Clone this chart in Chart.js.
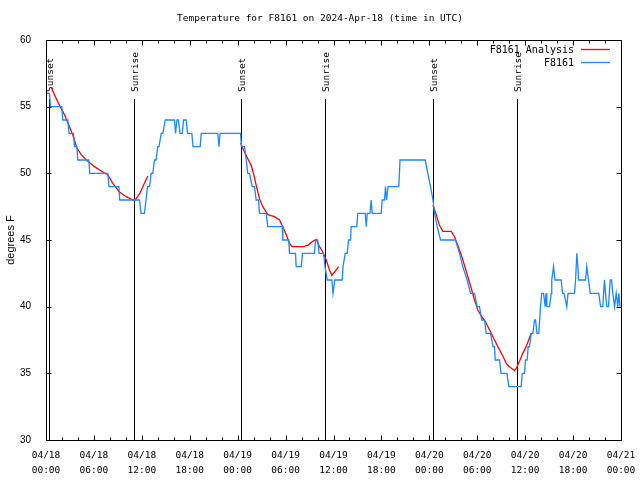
<!DOCTYPE html>
<html><head><meta charset="utf-8">
<script src="https://cdn.jsdelivr.net/npm/chart.js@4"></script>
<style>html,body{margin:0;padding:0;background:#fff}</style>
</head><body>
<canvas id="c" width="640" height="480"></canvas>
<script>
const titleText = 'Temperature for F8161 on 2024-Apr-18 (time in UTC)';
const yAxisTitle = 'degrees F';
const xTickLabels = [['04/18','00:00'],['04/18','06:00'],['04/18','12:00'],['04/18','18:00'],
  ['04/19','00:00'],['04/19','06:00'],['04/19','12:00'],['04/19','18:00'],
  ['04/20','00:00'],['04/20','06:00'],['04/20','12:00'],['04/20','18:00'],['04/21','00:00']];
const yMin = 30, yMax = 60, yStep = 5;
const xMin = 0, xMax = 72, xStep = 6, xMinorStep = 2;

const sunLabels = ['Sunset','Sunrise','Sunset','Sunrise','Sunset','Sunrise'];
const sunHours  = [0.35, 10.99, 24.39, 34.91, 48.43, 58.95];

const blueName = 'F8161';
const blueHours = [0.06,0.44,0.56,1.98,2.10,2.73,2.88,3.44,3.57,3.86,3.98,5.36,5.48,7.74,7.89,9.12,9.24,11.71,11.90,12.33,
 12.52,12.71,12.96,13.17,13.37,13.59,13.78,14.00,14.15,14.43,14.63,14.93,16.09,16.22,16.40,16.59,16.78,17.06,17.22,17.56,
 17.72,18.26,18.41,19.31,19.44,21.51,21.66,21.79,24.36,24.48,24.86,25.07,25.27,25.48,25.82,26.11,26.32,26.61,26.73,27.57,
 27.77,29.58,29.65,30.40,30.49,31.24,31.33,31.96,32.12,33.62,33.75,34.03,34.19,34.75,34.94,35.21,35.79,35.94,36.04,36.16,
 37.09,37.19,37.47,37.72,37.88,38.13,38.22,38.92,39.04,39.97,40.10,40.22,40.57,40.72,40.85,41.97,42.10,42.39,42.51,42.64,
 42.83,44.18,44.33,47.48,47.81,48.15,48.46,48.65,48.99,49.40,51.28,51.78,52.19,52.74,53.16,53.66,53.99,54.28,54.57,54.91,
 55.12,55.66,55.97,56.16,56.25,56.79,56.97,57.72,57.95,59.50,59.63,59.92,60.04,60.25,60.38,60.54,60.76,60.96,61.17,61.30,
 61.48,61.71,61.92,62.08,62.30,62.51,62.61,62.71,63.05,63.26,63.33,63.55,63.74,64.51,64.68,64.87,65.21,65.37,66.18,66.31,
 66.47,66.60,66.68,67.56,67.72,67.93,68.15,69.22,69.44,69.72,69.93,70.06,70.22,70.43,70.65,70.81,70.98,71.19,71.40,71.60,
 71.73,71.88];
const blueTemps = [56,56,55,55,54,54,53,53,52,52,51,51,50,50,49,49,48,48,47,47,
 48,49,49,50,50,51,51,52,52,53,53,54,54,53,54,54,53,53,54,54,
 53,53,52,52,53,53,52,53,53,52,52,51,50,50,49,49,48,48,47,47,
 46,46,45,45,44,44,43,43,44,44,45,45,44,44,43,42,42,41,41,42,
 42,43,44,44,45,45,46,46,47,47,46,47,47,48,47,47,48,48,49,48,
 49,49,51,51,50,49,48,47,46,45,45,44,43,42,41,41,40,40,39,39,
 38,38,37,37,36,36,35,35,34,34,35,35,36,36,37,37,38,38,39,39,
 38,38,40,41,41,40,41,40,40,41,42,43,42,42,41,41,40,41,41,42,
 44,43,42,42,43,42,41,41,40,40,42,41,40,40,42,42,41,40,41,40,
 41,40];

const redName = 'F8161 Analysis';
const redHours = [0.65,1.06,1.69,2.32,2.94,3.44,3.86,4.41,5.23,6.07,7.11,7.74,8.36,9.20,10.04,10.87,11.29,11.71,12.21,12.75,13.0,
 24.36,24.86,25.27,25.69,26.02,26.32,26.73,27.15,27.77,28.61,29.24,29.65,30.08,30.49,30.83,32.16,32.78,33.41,33.83,34.25,
 34.66,35.09,35.50,35.79,36.13,36.66,37.0,
 48.46,48.86,49.27,49.69,50.74,51.15,51.57,51.99,52.40,52.82,53.24,53.66,54.07,54.50,55.05,55.75,56.16,56.58,57.20,57.63,
 58.04,58.66,58.87,59.29,59.70,60.12,60.75];
const redTemps = [56.45,55.9,55.1,54.4,53.5,52.75,51.9,51.4,50.9,50.5,50.1,49.9,49.25,48.6,48.25,48.0,48.1,48.45,49.1,49.8,null,
 52.25,51.6,51.1,50.6,49.9,49.1,48.1,47.5,46.9,46.75,46.5,46.0,45.4,44.75,44.5,44.5,44.6,44.9,45.05,44.5,
 44.1,43.5,42.75,42.35,42.6,43.0,null,
 47.6,46.9,46.1,45.65,45.65,45.25,44.6,43.9,43.1,42.25,41.4,40.5,39.75,39.3,38.85,38.0,37.5,37.0,36.3,35.75,
 35.5,35.2,35.35,35.9,36.5,37.0,38.0];

const monoFont = '"DejaVu Sans Mono", "Liberation Mono", monospace';
const sansFont = '"Liberation Sans", Arial, sans-serif';
const blueColor = '#1a88ff', redColor = '#ff0000';

const decor = {
  id: 'decor',
  beforeDatasetsDraw(chart) {
    const {ctx, chartArea: a, scales: {x}} = chart;
    ctx.save();
    ctx.strokeStyle = '#000'; ctx.lineWidth = 1;
    ctx.fillStyle = '#000';
    ctx.font = '9.5px ' + monoFont;
    sunHours.forEach((h, i) => {
      const px = Math.round(x.getPixelForValue(h)) + 0.5;
      ctx.beginPath(); ctx.moveTo(px, 99); ctx.lineTo(px, a.bottom); ctx.stroke();
      ctx.save();
      ctx.translate(px + 1, 92);
      ctx.rotate(-Math.PI / 2);
      ctx.textAlign = 'left'; ctx.textBaseline = 'middle';
      ctx.fillText(sunLabels[i], 0, 0);
      ctx.restore();
    });
    ctx.restore();
  },
  afterDatasetsDraw(chart) {
    const {ctx, chartArea: a, scales: {x, y}} = chart;
    ctx.save();
    ctx.strokeStyle = '#000'; ctx.lineWidth = 1;
    const L = Math.round(a.left) + 0.5, R = Math.round(a.right) + 0.5;
    const T = Math.round(a.top) + 0.5, B = Math.round(a.bottom) + 0.5;
    ctx.strokeRect(L, T, R - L, B - T);
    ctx.beginPath();
    for (let h = xMin; h <= xMax; h += xMinorStep) {
      const px = Math.round(x.getPixelForValue(h)) + 0.5;
      const len = (h % xStep === 0) ? 5 : 3;
      ctx.moveTo(px, B); ctx.lineTo(px, B - len);
      ctx.moveTo(px, T); ctx.lineTo(px, T + len);
    }
    for (let v = yMin; v <= yMax; v += yStep) {
      const py = Math.round(y.getPixelForValue(v)) + 0.5;
      ctx.moveTo(L, py); ctx.lineTo(L + 5, py);
      ctx.moveTo(R, py); ctx.lineTo(R - 5, py);
    }
    ctx.stroke();
    // title
    ctx.fillStyle = '#000';
    ctx.font = '9.5px ' + monoFont;
    ctx.textAlign = 'center'; ctx.textBaseline = 'middle';
    ctx.fillText(titleText, 320, 19);
    // y axis title
    ctx.save();
    ctx.translate(11, 240); ctx.rotate(-Math.PI / 2);
    ctx.font = '11px ' + sansFont;
    ctx.fillText(yAxisTitle, 0, 0);
    ctx.restore();
    // legend
    ctx.font = '10px ' + monoFont;
    ctx.textAlign = 'right'; ctx.textBaseline = 'middle';
    const items = [[redName, redColor, 50], [blueName, blueColor, 63]];
    items.forEach(([name, col, ly]) => {
      ctx.fillStyle = '#000';
      ctx.fillText(name, 574, ly);
      ctx.strokeStyle = col; ctx.lineWidth = 1.3;
      ctx.beginPath(); ctx.moveTo(581, ly - 0.5); ctx.lineTo(610, ly - 0.5); ctx.stroke();
    });
    ctx.restore();
  }
};

new Chart(document.getElementById('c'), {
  type: 'line',
  data: {
    datasets: [
      { label: redName, data: redHours.map((h, i) => ({x: h, y: redTemps[i]})),
        borderColor: redColor, borderWidth: 1.3, pointRadius: 0, tension: 0, spanGaps: false, order: 2 },
      { label: blueName, data: blueHours.map((h, i) => ({x: h, y: blueTemps[i]})),
        borderColor: blueColor, borderWidth: 1.3, pointRadius: 0, tension: 0, order: 1 }
    ]
  },
  options: {
    responsive: false, animation: false, devicePixelRatio: 1,
    layout: { padding: { top: 40, right: 19, left: 0, bottom: 0 } },
    plugins: { legend: { display: false }, title: { display: false }, tooltip: { enabled: false } },
    scales: {
      x: {
        type: 'linear', min: xMin, max: xMax,
        afterFit: s => { s.height = 40; },
        grid: { display: false }, border: { display: false },
        ticks: { stepSize: xStep, autoSkip: false, maxRotation: 0, padding: 0, color: '#000',
          font: { family: monoFont, size: 9.5, lineHeight: 1.58 },
          callback: (v, i) => xTickLabels[i] }
      },
      y: {
        min: yMin, max: yMax,
        afterFit: s => { s.width = 46; },
        grid: { display: false }, border: { display: false },
        ticks: { stepSize: yStep, padding: 7, color: '#000', font: { family: sansFont, size: 10 } }
      }
    }
  },
  plugins: [decor]
});
</script>
</body></html>
